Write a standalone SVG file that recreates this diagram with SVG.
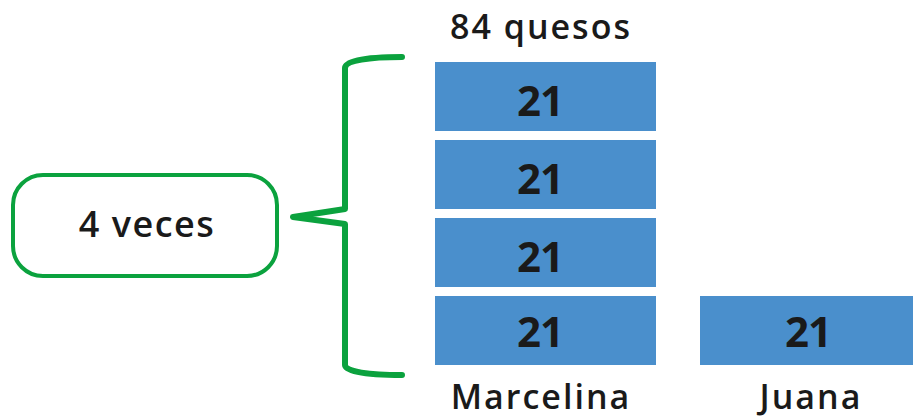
<svg xmlns="http://www.w3.org/2000/svg" width="913" height="419" viewBox="0 0 913 419">
<style>
.t{font-family:"Open Sans","Liberation Sans",sans-serif;font-weight:600;fill:#1a1a1a;text-anchor:middle}
.bar{fill:#4a8fcc}
.num{font-size:42px;font-weight:bold;letter-spacing:-1px}
.lbl{font-size:34px;letter-spacing:2px}
.g{fill:none;stroke:#0ba23e;stroke-linecap:round;stroke-linejoin:round}
</style>
<rect width="913" height="419" fill="#fff"/>
<g id="title"><text class="t lbl" x="541" y="39">84 quesos</text></g>
<g id="veces">
<rect class="g" x="13" y="175" width="264" height="101" rx="30" stroke-width="4"/>
<text class="t" style="font-size:36px;letter-spacing:1.5px" x="147" y="237">4 veces</text>
</g>
<g id="marcelina">
<rect class="bar" x="435" y="62" width="221" height="69"/>
<text class="t num" x="540" y="116">21</text>
<rect class="bar" x="435" y="140" width="221" height="69"/>
<text class="t num" x="540" y="194">21</text>
<rect class="bar" x="435" y="218" width="221" height="69"/>
<text class="t num" x="540" y="272">21</text>
<rect class="bar" x="435" y="296" width="221" height="69"/>
<text class="t num" x="540" y="347">21</text>
<text class="t lbl" x="541" y="409">Marcelina</text>
</g>
<g id="juana">
<rect class="bar" x="700" y="296" width="213" height="69"/>
<text class="t num" x="808" y="347">21</text>
<text class="t lbl" x="811" y="409">Juana</text>
</g>
<g id="connectors">
<path class="g" stroke-width="6" d="M402 57 C370 57 345 60 345 68 L345 209 L293 217 L345 224 L345 365 C345 372 370 375 402 375"/>
</g>
</svg>
